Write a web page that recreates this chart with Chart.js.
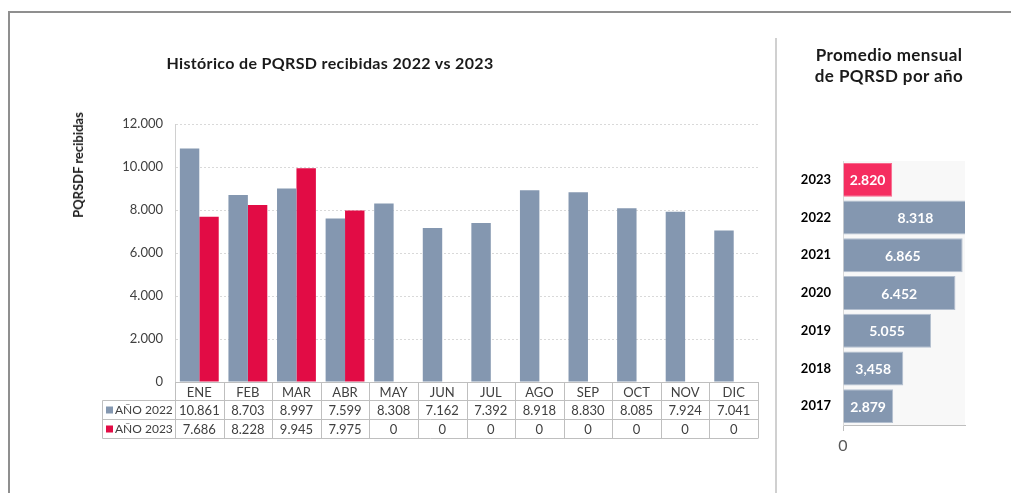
<!DOCTYPE html>
<html><head><meta charset="utf-8">
<script src="https://cdn.jsdelivr.net/npm/chart.js@4.4.0/dist/chart.umd.min.js"></script>
<style>
html,body{margin:0;padding:0;background:#fff;}
body{width:1011px;height:493px;position:relative;overflow:hidden;font-family:Lato,'DejaVu Sans',sans-serif;}
#frameTop{position:absolute;left:8px;top:11px;width:1003px;height:0;border-top:2px solid #8f8f8f;}
#frameLeft{position:absolute;left:8px;top:11px;width:0;height:482px;border-left:2px solid #8f8f8f;}
#divider{position:absolute;left:775px;top:38px;width:0;height:455px;border-left:2px solid #d0d0d0;}
#leftWrap{position:absolute;left:0;top:0;width:776px;height:493px;}
#rightWrap{position:absolute;left:777px;top:0;width:234px;height:493px;}
.title{position:absolute;font-weight:bold;color:#1a1a1a;white-space:nowrap;}
#t1{left:330px;top:62px;transform:translate(-50%,-50%);font-size:16px;letter-spacing:0.35px;}
#t2{left:889px;top:65px;transform:translate(-50%,-50%);font-size:17px;line-height:21px;letter-spacing:0.4px;text-align:center;}
#ytitle{left:78px;top:165px;transform:translate(-50%,-50%) rotate(-90deg);font-size:13px;}
</style>
</head>
<body>
<div id="frameTop"></div><div id="frameLeft"></div><div id="divider"></div>
<div id="leftWrap"><canvas id="c1"></canvas></div>
<div id="rightWrap"><canvas id="c2"></canvas></div>
<div class="title" id="t1">Histórico de PQRSD recibidas 2022 vs 2023</div>
<div class="title" id="t2">Promedio mensual<br>de PQRSD por año</div>
<div class="title" id="ytitle">PQRSDF recibidas</div>
<script>
// ---- data ----
const months = ['ENE','FEB','MAR','ABR','MAY','JUN','JUL','AGO','SEP','OCT','NOV','DIC'];
const seriesNames = ['AÑO 2022','AÑO 2023'];
const year2022 = [10861,8703,8997,7599,8308,7162,7392,8918,8830,8085,7924,7041];
const year2023 = [7686,8228,9945,7975,0,0,0,0,0,0,0,0];
const years = ['2023','2022','2021','2020','2019','2018','2017'];
const avgValues = [2820,8318,6865,6452,5055,3458,2879];
const avgLabels = ['2.820','8.318','6.865','6.452','5.055','3,458','2.879'];

const FONT = "Lato, 'DejaVu Sans', sans-serif";
const C2022 = '#8497b0', C2023 = '#e20c45', CPINK = '#f52d60';
const fmt = v => String(v).replace(/\B(?=(\d{3})+(?!\d))/g, '.');

// ---- left chart: data table plugin ----
const tablePlugin = {
  id: 'dataTable',
  afterDraw(chart) {
    const {ctx, chartArea: ca, scales: {x}} = chart;
    const top = ca.bottom, y1 = top + 18, y2 = y1 + 19, y3 = y2 + 19;
    const legendLeft = 102.5;
    const L = (a, b, c, d) => { ctx.beginPath(); ctx.moveTo(a, b); ctx.lineTo(c, d); ctx.stroke(); };
    ctx.save();
    ctx.strokeStyle = '#bfbfbf'; ctx.lineWidth = 1;
    const r = v => Math.round(v) + 0.5;
    L(legendLeft, r(y1), ca.right, r(y1));
    L(legendLeft, r(y2), ca.right, r(y2));
    L(legendLeft, r(y3), ca.right, r(y3));
    L(legendLeft, r(y1), legendLeft, r(y3));
    const n = months.length;
    for (let i = 0; i <= n; i++) {
      let xb;
      if (i === 0) xb = ca.left; else if (i === n) xb = ca.right;
      else xb = (x.getPixelForValue(i - 1) + x.getPixelForValue(i)) / 2;
      L(r(xb), top, r(xb), r(y3));
    }
    ctx.font = '13px ' + FONT;
    ctx.fillStyle = '#404040';
    ctx.textAlign = 'center'; ctx.textBaseline = 'middle';
    const rows = [[year2022, (y1 + y2) / 2], [year2023, (y2 + y3) / 2]];
    rows.forEach(([arr, yy]) => arr.forEach((v, i) => ctx.fillText(fmt(v), x.getPixelForValue(i), yy + 1)));
    // legend keys
    ctx.textAlign = 'left';
    ctx.font = '12px ' + FONT;
    [[C2022, (y1 + y2) / 2], [C2023, (y2 + y3) / 2]].forEach(([c, yy], k) => {
      ctx.fillStyle = c; ctx.fillRect(106, yy - 3, 7, 7);
      ctx.fillStyle = '#404040'; ctx.fillText(seriesNames[k], 115, yy + 1);
    });
    ctx.restore();
  }
};

new Chart(document.getElementById('c1'), {
  type: 'bar',
  data: {
    labels: months,
    datasets: [
      {label: seriesNames[0], data: year2022, backgroundColor: C2022, categoryPercentage: 0.8, barPercentage: 1.0},
      {label: seriesNames[1], data: year2023, backgroundColor: C2023, categoryPercentage: 0.8, barPercentage: 1.0}
    ]
  },
  options: {
    responsive: true, maintainAspectRatio: false, animation: false,
    layout: {padding: {top: 124, right: 18, bottom: 56, left: 0}},
    plugins: {legend: {display: false}, title: {display: false}, tooltip: {enabled: false}},
    scales: {
      x: {
        grid: {display: false, drawTicks: false},
        border: {display: true, color: '#bfbfbf'},
        ticks: {font: {family: FONT, size: 13}, color: '#404040', padding: 3, maxRotation: 0},
        afterFit: s => { s.height = 55; }
      },
      y: {
        min: 0, max: 12000,
        ticks: {stepSize: 2000, font: {family: FONT, size: 13}, color: '#404040', padding: 12, callback: v => fmt(v)},
        grid: {color: '#d9d9d9', drawTicks: false},
        border: {display: true, color: '#d0d0d0', dash: [2, 2]},
        afterFit: s => { s.width = 175; }
      }
    }
  },
  plugins: [tablePlugin]
});

// ---- right chart ----
const bgPlugin = {
  id: 'plotBg',
  beforeDraw(chart) {
    const {ctx, chartArea: ca} = chart;
    ctx.save(); ctx.fillStyle = '#f8f8f8';
    ctx.fillRect(ca.left, ca.top, ca.right - ca.left, ca.bottom - ca.top);
    ctx.restore();
  }
};
const barLabelPlugin = {
  id: 'barLabels',
  afterDatasetsDraw(chart) {
    const {ctx, scales: {x}} = chart;
    const meta = chart.getDatasetMeta(0);
    ctx.save();
    ctx.font = 'bold 14px ' + FONT;
    ctx.fillStyle = '#ffffff';
    ctx.textAlign = 'center'; ctx.textBaseline = 'middle';
    meta.data.forEach((el, i) => {
      const cx = (x.getPixelForValue(0) + x.getPixelForValue(avgValues[i])) / 2;
      ctx.fillText(avgLabels[i], cx, el.y + 1);
    });
    ctx.restore();
  }
};

new Chart(document.getElementById('c2'), {
  type: 'bar',
  data: {
    labels: years,
    datasets: [{
      data: avgValues,
      backgroundColor: years.map((y, i) => i === 0 ? CPINK : C2022),
      borderColor: years.map((y, i) => i === 0 ? '#f86a8d' : '#b3bfcf'),
      borderWidth: 1,
      categoryPercentage: 0.9, barPercentage: 1.0
    }]
  },
  options: {
    indexAxis: 'y',
    responsive: true, maintainAspectRatio: false, animation: false,
    layout: {padding: {top: 161, right: 46, bottom: 38, left: 0}},
    plugins: {legend: {display: false}, tooltip: {enabled: false}},
    scales: {
      x: {
        min: 0, max: 7000,
        afterBuildTicks: s => { s.ticks = [{value: 0}]; },
        ticks: {font: {family: FONT, size: 16}, color: '#595959', padding: 5, callback: v => String(v)},
        grid: {display: true, drawOnChartArea: false, drawTicks: true, tickLength: 6, tickColor: '#bfbfbf'},
        border: {display: true, color: '#bfbfbf'},
        afterFit: s => { s.height = 30; }
      },
      y: {
        grid: {display: false, drawTicks: false},
        border: {display: true, color: '#d9d9d9'},
        ticks: {font: {family: FONT, size: 13, weight: 'bold'}, color: '#000000', padding: 12},
        afterFit: s => { s.width = 66; }
      }
    }
  },
  plugins: [bgPlugin, barLabelPlugin]
});
</script>
</body></html>
